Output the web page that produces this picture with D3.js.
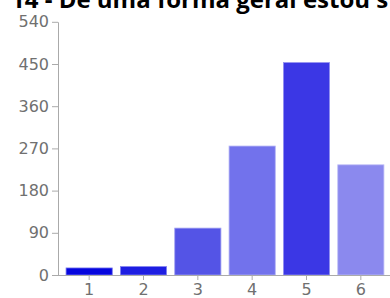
<!DOCTYPE html>
<html>
<head>
<meta charset="utf-8">
<script src="https://cdn.jsdelivr.net/npm/d3@7"></script>
<style>
  body { margin: 0; background: #fff; }
  svg { display: block; }
</style>
</head>
<body>
<svg id="chart"></svg>
<script>
const titleText = '14 - De uma forma geral estou s';
const categories = ['1', '2', '3', '4', '5', '6'];
const counts = [15, 18, 100, 275, 453, 235];
const barColors = ['#0606de', '#1e1ee2', '#5454e6', '#7272ec', '#3b37e5', '#8b89ee'];
const yTicks = [0, 90, 180, 270, 360, 450, 540];

const width = 390,
      height = 298,
      margin = {top: 22, right: 0, bottom: 23, left: 58};

const svg = d3.select('#chart')
  .attr('width', width)
  .attr('height', height);

// Scales
const xPosition = d3.scaleBand()
  .domain(categories)
  .range([62, 388])
  .paddingInner(0.15)
  .paddingOuter(0.075);

const yPosition = d3.scaleLinear()
  .domain([0, 540])
  .range([height - margin.bottom, margin.top - 0.2]);

// Title (cut off at the top, as in the picture)
svg.append('text')
  .attr('x', 11)
  .attr('y', 7.5)
  .style('font-family', '"Open Sans", sans-serif')
  .style('font-weight', 'bold')
  .style('font-size', '24px')
  .attr('fill', '#000')
  .text(titleText);

// Bars
svg.append('g')
  .selectAll('rect')
  .data(counts)
  .enter()
  .append('rect')
    .attr('x', (d, i) => xPosition(categories[i]))
    .attr('y', d => yPosition(d))
    .attr('width', xPosition.bandwidth())
    .attr('height', d => yPosition(0) - yPosition(d))
    .attr('fill', (d, i) => barColors[i])
    .attr('stroke', (d, i) => d3.interpolateRgb(barColors[i], '#fff')(0.45))
    .attr('stroke-width', 0.8);

// Y-Axis
const yAxis = svg.append('g')
  .attr('transform', `translate(${margin.left},0)`)
  .call(d3.axisLeft(yPosition).tickValues(yTicks).tickSize(6).tickSizeOuter(0).tickPadding(3));

// X-Axis
const xAxis = svg.append('g')
  .attr('transform', `translate(0,${yPosition(0)})`)
  .call(d3.axisBottom(xPosition).tickSize(5).tickSizeOuter(0).tickPadding(4));

xAxis.select('.domain')
  .attr('d', `M${margin.left},0.5H${width}`);

[xAxis, yAxis].forEach(axis => {
  axis.select('.domain').attr('stroke', '#aaa');
  axis.selectAll('.tick line').attr('stroke', '#aaa');
  axis.selectAll('.tick text')
    .attr('fill', '#707070')
    .style('font-family', '"DejaVu Sans", sans-serif')
    .style('font-size', '16px');
});
</script>
</body>
</html>
